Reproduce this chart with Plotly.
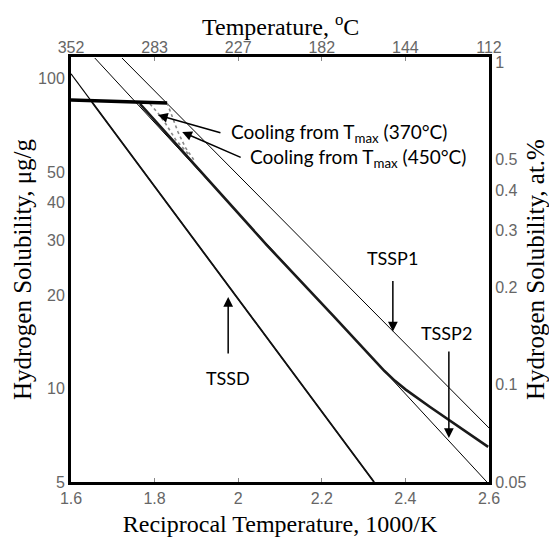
import math
import plotly.graph_objects as go

# ---------------- data ----------------
x_ticks = [1.6, 1.8, 2.0, 2.2, 2.4, 2.6]
x_tick_text = ["1.6", "1.8", "2", "2.2", "2.4", "2.6"]
temp_tick_text = ["352", "283", "227", "182", "144", "112"]
y_ticks = [5, 10, 20, 30, 40, 50, 100]
at_ticks = [0.05, 0.1, 0.2, 0.3, 0.4, 0.5, 1]

tssd_fit_x = [1.6, 2.325]
tssd_fit_y = [103.7, 5.0]
tssd_data_x = [1.65, 2.325]
tssd_data_y = [84.1, 5.0]
tssp1_x = [1.722, 2.6]
tssp1_y = [116.6, 7.47]
tssp2_x = [1.657, 2.595]
tssp2_y = [116.6, 5.0]
plateau_x = [1.6, 1.83]
plateau_y = [85.4, 83.5]
cool_x = [1.765, 1.892, 2.069, 2.227, 2.35, 2.375, 2.40, 2.459, 2.538, 2.598]
cool_y = [82.9, 53.5, 29.0, 17.2, 11.4, 10.6, 9.95, 8.73, 7.36, 6.49]
cool450_x = [1.830, 1.842, 1.856, 1.873, 1.897]
cool450_y = [83.5, 75.8, 67.3, 60.2, 53.9]
cool370_x = [1.789, 1.808, 1.827, 1.851, 1.885]
cool370_y = [82.9, 77.5, 71.4, 63.4, 56.3]

y_range = [5, 117.5]
at_range = [0.05, 1.036]

SERIF = "Liberation Serif"
SANS = "Liberation Sans"
ANN = "Lato"

fig = go.Figure()

def line(x, y, w, color="black", dash="solid"):
    fig.add_trace(go.Scatter(x=x, y=y, mode="lines", showlegend=False, hoverinfo="skip",
                             line=dict(color=color, width=w, dash=dash)))

line(tssd_fit_x, tssd_fit_y, 1.2)
line(tssd_data_x, tssd_data_y, 1.8, "#111")
line(tssp1_x, tssp1_y, 1.0)
line(tssp2_x, tssp2_y, 1.0)
line(cool370_x, cool370_y, 1.6, "#888", "dot")
line(cool450_x, cool450_y, 1.6, "#888", "dot")
line(cool_x, cool_y, 2.6, "#1a1a1a")
line(plateau_x, plateau_y, 3.6)

# invisible traces to bring up the top and right axes
fig.add_trace(go.Scatter(x=x_ticks, y=[y_ticks[0]] * len(x_ticks), xaxis="x2", yaxis="y",
                         mode="markers", marker=dict(opacity=0), showlegend=False, hoverinfo="skip"))
fig.add_trace(go.Scatter(x=[x_ticks[0]] * len(at_ticks), y=at_ticks, xaxis="x", yaxis="y2",
                         mode="markers", marker=dict(opacity=0), showlegend=False, hoverinfo="skip"))

tickfont = dict(family=SANS, size=16, color="#666")
titlefont = dict(family=SERIF, size=24, color="black")
common = dict(showline=True, linecolor="black", linewidth=3, showgrid=False, zeroline=False,
              automargin=False)

fig.update_layout(
    width=549, height=542,
    margin=dict(l=71, r=60, t=57, b=60),
    paper_bgcolor="white", plot_bgcolor="white",
    xaxis=dict(range=[1.6, 2.6], tickvals=x_ticks, ticktext=x_tick_text, tickfont=tickfont,
               ticks="inside", ticklen=4, tickcolor="#888",
               title=dict(text="Reciprocal Temperature, 1000/K", font=titlefont, standoff=9), **common),
    xaxis2=dict(range=[1.6, 2.6], overlaying="x", side="top", tickvals=x_ticks,
                ticktext=temp_tick_text, tickfont=tickfont, ticklabelstandoff=-5,
                ticks="inside", ticklen=4, tickcolor="#888", **common),
    yaxis=dict(type="log", range=[math.log10(y_range[0]), math.log10(y_range[1])],
               tickvals=y_ticks, ticktext=[str(v) for v in y_ticks], tickfont=tickfont, ticks="",
               title=dict(text="Hydrogen Solubility, μg/g",
                          font=dict(family=SERIF, size=25, color="black"), standoff=0), **common),
    yaxis2=dict(type="log", overlaying="y", side="right",
                range=[math.log10(at_range[0]), math.log10(at_range[1])],
                tickvals=at_ticks, ticktext=[str(v) for v in at_ticks], tickfont=tickfont, ticks="",
                title=dict(text="Hydrogen Solubility, at.%",
                           font=dict(family=SERIF, size=25, color="black"), standoff=2), **common),
)

# top axis title
fig.add_annotation(x=0.5, y=1.0753, xref="paper", yref="paper", showarrow=False,
                   text="Temperature, <sup>o</sup>C", xanchor="center", yanchor="middle",
                   font=titlefont)

# arrows (tip in data coords, tail offsets in px)
arrows = [
    dict(x=1.808, y=76.3, ax=64, ay=18),
    dict(x=1.866, y=67.3, ax=60, ay=26),
    dict(x=2.370, y=15.3, ax=0, ay=-52),
    dict(x=2.504, y=6.93, ax=0, ay=-88),
    dict(x=1.976, y=19.77, ax=0, ay=58),
]
for a in arrows:
    fig.add_annotation(x=a["x"], y=math.log10(a["y"]), xref="x", yref="y", ax=a["ax"], ay=a["ay"],
                       showarrow=True, arrowhead=2, arrowsize=1.3, arrowwidth=1.5, arrowcolor="black", text="")

labels = [
    dict(x=1.978, y=66.8, text="Cooling from T<sub>max</sub> (370°C)", anchor="left", size=19),
    dict(x=2.024, y=55.5, text="Cooling from T<sub>max</sub> (450°C)", anchor="left", size=19),
    dict(x=2.368, y=26.4, text="TSSP1", anchor="center", size=18),
    dict(x=2.4995, y=15.1, text="TSSP2", anchor="center", size=18),
    dict(x=1.9756, y=10.83, text="TSSD", anchor="center", size=18),
]
for l in labels:
    fig.add_annotation(x=l["x"], y=math.log10(l["y"]), xref="x", yref="y", text=l["text"],
                       showarrow=False, xanchor=l["anchor"], yanchor="middle",
                       font=dict(family=ANN, size=l["size"], color="black"))

fig.write_html("out.html", config={"displayModeBar": False},
               post_script="document.body.style.margin='0px';")
